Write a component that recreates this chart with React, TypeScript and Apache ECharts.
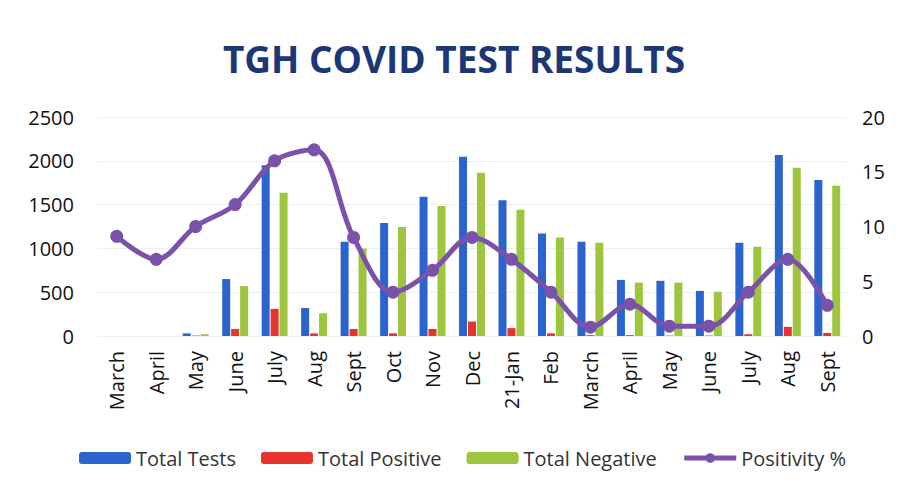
import React, { useEffect, useRef } from "react";
import * as echarts from "echarts";

const categories = ["March", "April", "May", "June", "July", "Aug", "Sept", "Oct", "Nov", "Dec", "21-Jan", "Feb", "March", "April", "May", "June", "July", "Aug", "Sept"];
const totalTests = [0, 0, 30, 650, 1950, 320, 1075, 1290, 1590, 2045, 1550, 1170, 1075, 640, 630, 515, 1065, 2065, 1780];
const totalPositive = [0, 0, 5, 80, 310, 30, 80, 30, 80, 165, 90, 30, 10, 10, 5, 5, 20, 105, 35];
const totalNegative = [0, 0, 20, 570, 1635, 260, 1000, 1245, 1485, 1865, 1440, 1125, 1065, 610, 610, 505, 1020, 1920, 1715];
const positivity = [9.1, 7, 10, 12, 16, 17, 9, 4, 6, 9, 7, 4, 0.8, 2.9, 0.9, 0.9, 4, 7, 2.8];
const leftTicks = { min: 0, max: 2500, interval: 500 };
const rightTicks = { min: 0, max: 20, interval: 5 };

const FONT = "'Open Sans', sans-serif";
const PURPLE = "#7A52AA";

export default function App() {
  const ref = useRef<HTMLDivElement>(null);
  useEffect(() => {
    if (!ref.current) return;
    const chart = echarts.init(ref.current, null, { renderer: "svg" });
    chart.setOption({
      animation: false,
      backgroundColor: "#ffffff",
      title: {
        text: "TGH COVID TEST RESULTS",
        left: "center",
        top: 35,
        textStyle: { fontFamily: FONT, fontWeight: "bold", fontSize: 37, color: "#1B3775" },
      },
      legend: {
        left: 74,
        top: 443,
        itemWidth: 52,
        itemHeight: 12,
        itemGap: 25,
        textStyle: { fontFamily: FONT, fontSize: 20, color: "#333" },
        data: [
          "Total Tests",
          "Total Positive",
          "Total Negative",
          { name: "Positivity %", lineStyle: { width: 5, color: PURPLE }, itemStyle: { color: PURPLE } },
        ],
      },
      grid: { left: 97, right: 61, top: 117, bottom: 163 },
      xAxis: {
        type: "category",
        data: categories,
        axisLine: { show: false },
        axisTick: { show: false },
        axisLabel: { rotate: 90, fontFamily: FONT, fontSize: 20, color: "#111", margin: 15, interval: 0 },
      },
      yAxis: [
        {
          type: "value",
          ...leftTicks,
          axisLine: { show: false },
          axisTick: { show: false },
          axisLabel: { fontFamily: FONT, fontSize: 20, color: "#111", margin: 23, formatter: (v: number) => String(v) },
          splitLine: { lineStyle: { color: "#eeeeee" } },
        },
        {
          type: "value",
          ...rightTicks,
          axisLine: { show: false },
          axisTick: { show: false },
          axisLabel: { fontFamily: FONT, fontSize: 20, color: "#111", margin: 15 },
          splitLine: { show: false },
        },
      ],
      series: [
        { name: "Total Tests", type: "bar", data: totalTests, barWidth: 8, barGap: "12%", itemStyle: { color: "#2B64CC" } },
        { name: "Total Positive", type: "bar", data: totalPositive, barWidth: 8, barGap: "12%", itemStyle: { color: "#E6352F" } },
        { name: "Total Negative", type: "bar", data: totalNegative, barWidth: 8, barGap: "12%", itemStyle: { color: "#9DC53E" } },
        {
          name: "Positivity %",
          type: "line",
          yAxisIndex: 1,
          data: positivity,
          smooth: 0.35,
          symbol: "circle",
          symbolSize: 13,
          lineStyle: { width: 5, color: PURPLE },
          itemStyle: { color: PURPLE },
        },
      ],
    });
    return () => chart.dispose();
  }, []);
  return <div ref={ref} style={{ position: "fixed", left: 0, top: 0, width: 908, height: 499 }} />;
}
